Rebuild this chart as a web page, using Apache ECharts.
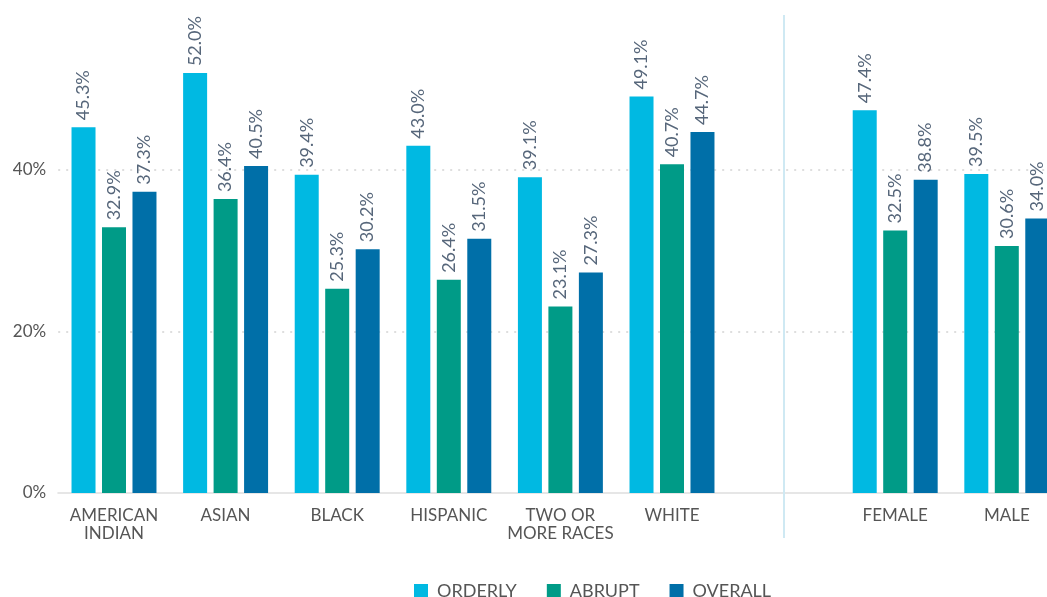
<!DOCTYPE html>
<html>
<head>
<meta charset="utf-8">
<script src="https://cdn.jsdelivr.net/npm/echarts@6/dist/echarts.min.js"></script>
<style>
html,body{margin:0;padding:0;background:#fff;}
#chart{width:1047px;height:597px;}
</style>
</head>
<body>
<div id="chart"></div>
<script>
const categories = ['AMERICAN\nINDIAN', 'ASIAN', 'BLACK', 'HISPANIC', 'TWO OR\nMORE RACES', 'WHITE', ' ', 'FEMALE', 'MALE'];
const orderly = [45.3, 52.0, 39.4, 43.0, 39.1, 49.1, '-', 47.4, 39.5];
const abrupt  = [32.9, 36.4, 25.3, 26.4, 23.1, 40.7, '-', 32.5, 30.6];
const overall = [37.3, 40.5, 30.2, 31.5, 27.3, 44.7, '-', 38.8, 34.0];
const seriesNames = ['ORDERLY', 'ABRUPT', 'OVERALL'];
const separatorCategory = ' ';

const colors = ['#00b9e2', '#009b87', '#006fa8'];
const FONT = 'Lato';

const chart = echarts.init(document.getElementById('chart'), null, {renderer: 'canvas'});

function barSeries(name, data, color) {
  return {
    name: name,
    type: 'bar',
    xAxisIndex: 0,
    yAxisIndex: 0,
    data: data,
    barWidth: 24,
    barGap: '27%',
    itemStyle: {color: color},
    label: {
      show: true,
      position: 'top',
      rotate: 90,
      align: 'left',
      verticalAlign: 'middle',
      distance: 7,
      fontFamily: FONT,
      fontSize: 18,
      color: '#56667a',
      formatter: p => Number(p.value).toFixed(1) + '%'
    },
    emphasis: {disabled: true},
    animation: false
  };
}

const option = {
  animation: false,
  textStyle: {fontFamily: FONT},
  grid: [
    {left: 58.2, width: 1004.4, top: 8.5, bottom: 104, containLabel: false, outerBoundsMode: 'none'},
    {left: 58.2, width: 1004.4, top: 15, bottom: 59, containLabel: false, outerBoundsMode: 'none'}
  ],
  legend: {
    data: seriesNames,
    left: 414,
    top: 582,
    padding: 0,
    icon: 'rect',
    itemWidth: 14,
    itemHeight: 14,
    itemGap: 30,
    textStyle: {fontFamily: FONT, fontSize: 18, lineHeight: 16, color: '#555', padding: [0, 0, 0, 4]},
    selectedMode: false
  },
  xAxis: [
    {
      type: 'category',
      gridIndex: 0,
      data: categories,
      axisLine: {show: true, lineStyle: {color: '#e6e6e6', width: 2}},
      axisTick: {show: false},
      axisLabel: {
        fontFamily: FONT, fontSize: 17, color: '#555', margin: 14,
        lineHeight: 18, interval: 0
      }
    },
    {
      type: 'category',
      gridIndex: 1,
      data: categories,
      show: false
    }
  ],
  yAxis: [
    {
      type: 'value',
      gridIndex: 0,
      min: 0,
      max: 60,
      interval: 20,
      axisLine: {show: false},
      axisTick: {show: false},
      axisLabel: {
        fontFamily: FONT, fontSize: 17, color: '#555', margin: 12,
        formatter: v => v + '%',
        showMaxLabel: false
      },
      splitLine: {
        show: true,
        showMinLine: false,
        showMaxLine: false,
        lineStyle: {color: '#dedede', width: 2, type: [2, 6]}
      }
    },
    {
      type: 'value',
      gridIndex: 1,
      min: 0,
      max: 1,
      show: false
    }
  ],
  series: [
    barSeries(seriesNames[0], orderly, colors[0]),
    barSeries(seriesNames[1], abrupt, colors[1]),
    barSeries(seriesNames[2], overall, colors[2]),
    {
      name: 'separator',
      type: 'line',
      xAxisIndex: 1,
      yAxisIndex: 1,
      data: [],
      silent: true,
      markLine: {
        silent: true,
        symbol: 'none',
        animation: false,
        label: {show: false},
        lineStyle: {color: '#cfe9f3', width: 2, type: 'solid'},
        data: [{xAxis: separatorCategory}]
      }
    }
  ]
};

chart.setOption(option);
</script>
</body>
</html>
